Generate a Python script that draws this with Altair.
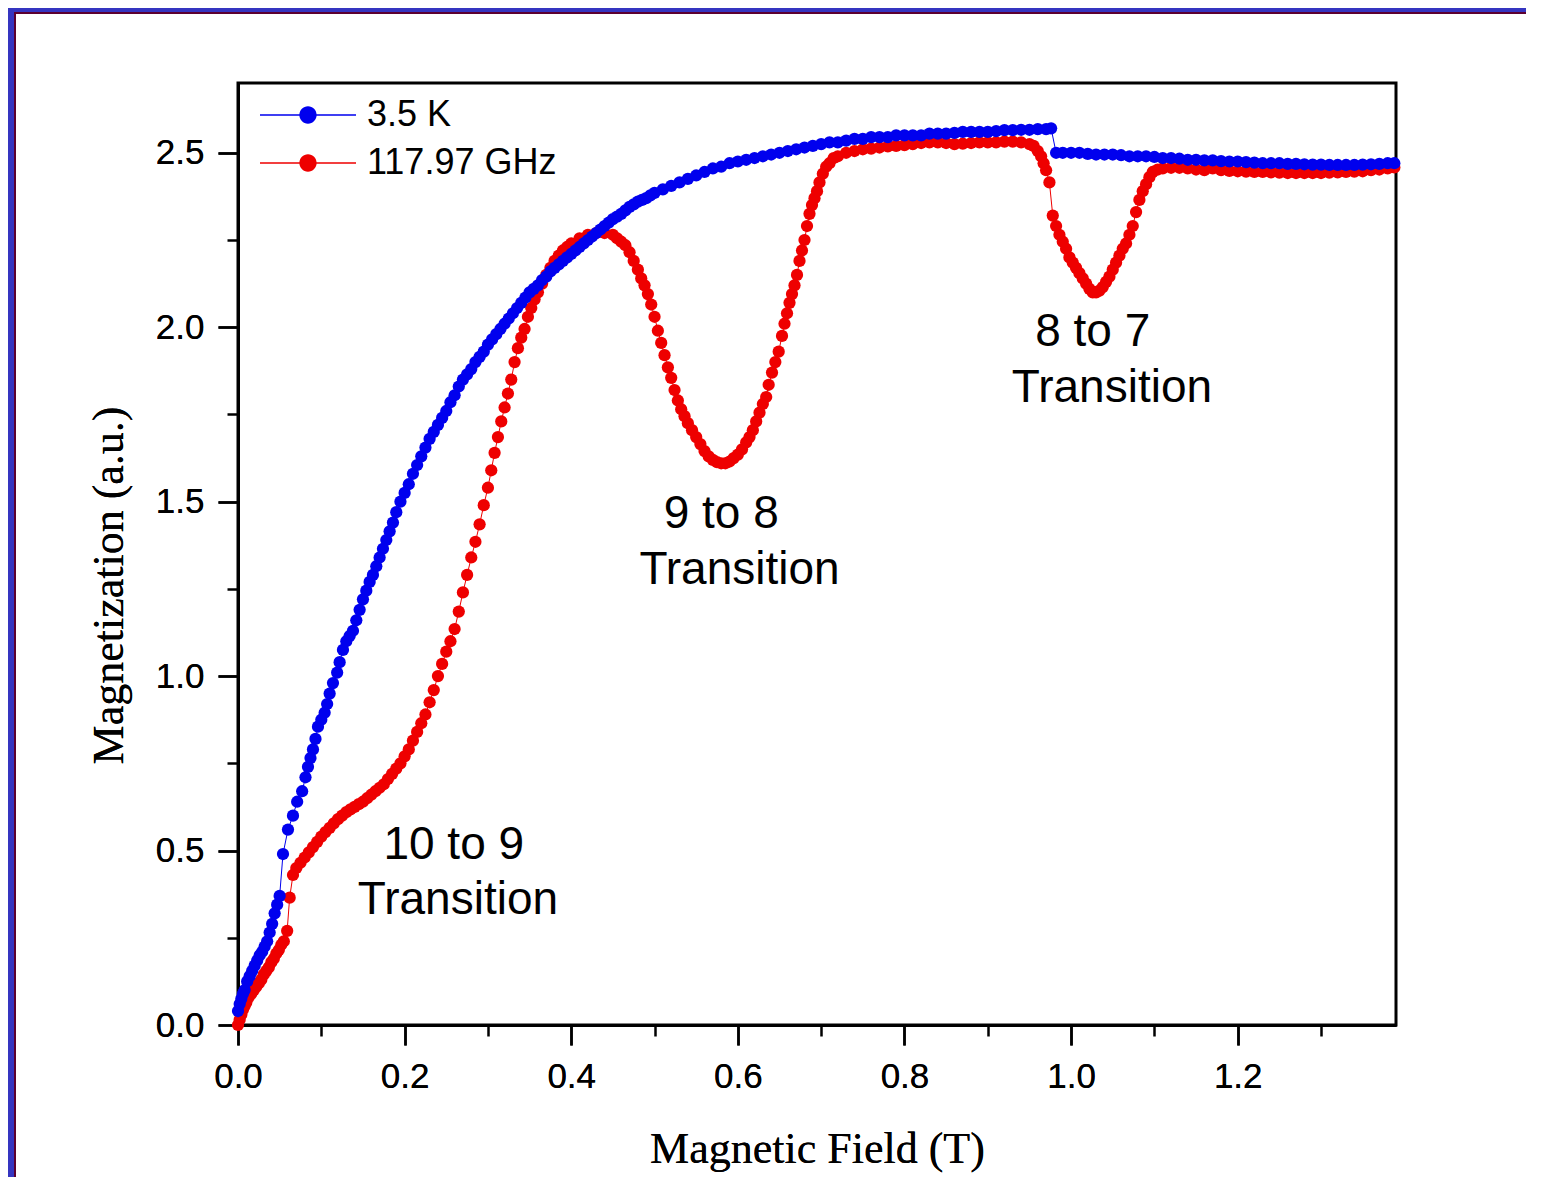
import altair as alt
import pandas as pd

series_names = ["3.5 K", "117.97 GHz"]
series_colors = ["#0000EE", "#EE0000"]

blue_points = [
    (0.000, 0.04), (0.002, 0.06), (0.004, 0.075), (0.006, 0.09), (0.008, 0.10), (0.011, 0.125),
    (0.014, 0.14), (0.017, 0.155), (0.020, 0.17), (0.023, 0.185), (0.026, 0.20), (0.029, 0.21),
    (0.032, 0.225), (0.035, 0.24), (0.038, 0.265), (0.041, 0.29), (0.044, 0.32), (0.047, 0.345),
    (0.050, 0.37), (0.054, 0.49), (0.060, 0.56), (0.066, 0.60), (0.071, 0.64), (0.077, 0.67),
    (0.081, 0.71), (0.084, 0.74), (0.087, 0.765), (0.090, 0.79), (0.093, 0.82), (0.096, 0.855),
    (0.100, 0.875), (0.104, 0.895), (0.107, 0.92), (0.110, 0.95), (0.114, 0.98), (0.119, 1.01),
    (0.122, 1.04), (0.126, 1.075), (0.130, 1.10), (0.134, 1.115), (0.138, 1.13), (0.142, 1.16),
    (0.146, 1.19), (0.150, 1.22), (0.154, 1.245), (0.158, 1.27), (0.162, 1.29), (0.166, 1.315),
    (0.170, 1.34), (0.174, 1.365), (0.178, 1.39), (0.182, 1.415), (0.186, 1.44), (0.190, 1.47),
    (0.195, 1.50), (0.200, 1.525), (0.205, 1.55), (0.210, 1.58), (0.215, 1.605), (0.220, 1.63),
    (0.225, 1.655), (0.230, 1.68), (0.235, 1.70), (0.240, 1.72), (0.245, 1.74), (0.250, 1.76),
    (0.255, 1.785), (0.260, 1.805), (0.265, 1.83), (0.270, 1.85), (0.275, 1.865), (0.280, 1.88),
    (0.285, 1.90), (0.290, 1.915), (0.295, 1.93), (0.300, 1.95), (0.305, 1.965), (0.310, 1.98),
    (0.315, 1.995), (0.320, 2.01), (0.325, 2.025), (0.330, 2.04), (0.335, 2.055), (0.340, 2.07),
    (0.345, 2.085), (0.350, 2.10), (0.355, 2.11), (0.360, 2.12), (0.365, 2.135), (0.370, 2.145),
    (0.375, 2.16), (0.380, 2.17), (0.385, 2.18), (0.390, 2.19), (0.395, 2.20), (0.400, 2.21),
    (0.405, 2.22), (0.410, 2.23), (0.415, 2.24), (0.420, 2.25), (0.425, 2.26), (0.430, 2.27),
    (0.435, 2.28), (0.440, 2.29), (0.445, 2.30), (0.450, 2.31), (0.455, 2.317), (0.460, 2.325),
    (0.465, 2.335), (0.470, 2.345), (0.475, 2.352), (0.480, 2.36), (0.485, 2.365), (0.490, 2.37),
    (0.495, 2.378), (0.500, 2.385), (0.51, 2.395), (0.52, 2.405), (0.53, 2.415), (0.54, 2.425),
    (0.55, 2.435), (0.56, 2.445), (0.57, 2.455), (0.58, 2.46), (0.59, 2.47), (0.60, 2.475),
    (0.61, 2.48), (0.62, 2.485), (0.63, 2.49), (0.64, 2.495), (0.65, 2.50), (0.66, 2.505),
    (0.67, 2.51), (0.68, 2.515), (0.69, 2.52), (0.70, 2.525), (0.71, 2.53), (0.72, 2.53),
    (0.73, 2.535), (0.74, 2.54), (0.75, 2.54), (0.76, 2.545), (0.77, 2.545), (0.78, 2.545),
    (0.79, 2.55), (0.80, 2.55), (0.81, 2.55), (0.82, 2.55), (0.83, 2.555), (0.84, 2.555),
    (0.85, 2.555), (0.86, 2.557), (0.87, 2.56), (0.88, 2.56), (0.89, 2.56), (0.90, 2.56),
    (0.91, 2.562), (0.92, 2.565), (0.93, 2.565), (0.94, 2.566), (0.95, 2.566), (0.96, 2.568),
    (0.97, 2.568), (0.976, 2.57), (0.982, 2.50), (0.99, 2.50), (1.00, 2.50), (1.01, 2.50),
    (1.02, 2.497), (1.03, 2.495), (1.04, 2.495), (1.05, 2.495), (1.06, 2.493), (1.07, 2.49),
    (1.08, 2.49), (1.09, 2.49), (1.10, 2.488), (1.11, 2.485), (1.12, 2.485), (1.13, 2.483),
    (1.14, 2.48), (1.15, 2.48), (1.16, 2.478), (1.17, 2.478), (1.18, 2.476), (1.19, 2.475),
    (1.20, 2.475), (1.21, 2.473), (1.22, 2.472), (1.23, 2.47), (1.24, 2.47), (1.25, 2.47),
    (1.26, 2.468), (1.27, 2.468), (1.28, 2.467), (1.29, 2.466), (1.30, 2.466), (1.31, 2.465),
    (1.32, 2.465), (1.33, 2.465), (1.34, 2.465), (1.35, 2.466), (1.36, 2.467), (1.37, 2.468),
    (1.38, 2.47), (1.388, 2.47),
]

red_points = [
    (0.000, 0.00), (0.002, 0.015), (0.004, 0.03), (0.006, 0.045), (0.008, 0.055), (0.010, 0.065),
    (0.013, 0.08), (0.016, 0.09), (0.019, 0.10), (0.022, 0.11), (0.025, 0.12), (0.028, 0.13),
    (0.031, 0.145), (0.034, 0.155), (0.037, 0.165), (0.040, 0.18), (0.043, 0.19), (0.046, 0.205),
    (0.049, 0.215), (0.052, 0.23), (0.055, 0.24), (0.059, 0.27), (0.062, 0.365), (0.066, 0.43),
    (0.070, 0.45), (0.075, 0.465), (0.080, 0.48), (0.085, 0.495), (0.090, 0.51), (0.095, 0.525),
    (0.100, 0.54), (0.105, 0.553), (0.110, 0.565), (0.115, 0.578), (0.120, 0.59), (0.125, 0.60),
    (0.130, 0.61), (0.135, 0.618), (0.140, 0.625), (0.145, 0.633), (0.150, 0.64), (0.155, 0.65),
    (0.160, 0.66), (0.165, 0.67), (0.170, 0.68), (0.175, 0.69), (0.180, 0.705), (0.185, 0.72),
    (0.190, 0.735), (0.195, 0.75), (0.200, 0.77), (0.205, 0.79), (0.210, 0.815), (0.215, 0.84),
    (0.220, 0.865), (0.225, 0.89), (0.230, 0.925), (0.235, 0.96), (0.240, 1.00), (0.245, 1.035),
    (0.250, 1.07), (0.255, 1.10), (0.260, 1.135), (0.265, 1.185), (0.270, 1.24), (0.275, 1.29),
    (0.280, 1.34), (0.285, 1.385), (0.290, 1.435), (0.295, 1.49), (0.300, 1.54), (0.304, 1.59),
    (0.308, 1.64), (0.312, 1.685), (0.316, 1.73), (0.320, 1.77), (0.324, 1.81), (0.328, 1.85),
    (0.332, 1.90), (0.336, 1.94), (0.340, 1.97), (0.344, 1.995), (0.348, 2.03), (0.352, 2.055),
    (0.356, 2.08), (0.360, 2.10), (0.365, 2.125), (0.370, 2.15), (0.375, 2.17), (0.380, 2.19),
    (0.385, 2.205), (0.390, 2.22), (0.395, 2.23), (0.400, 2.24), (0.41, 2.255), (0.42, 2.265),
    (0.43, 2.27), (0.44, 2.27), (0.45, 2.265), (0.455, 2.255), (0.460, 2.245), (0.465, 2.235),
    (0.470, 2.215), (0.475, 2.19), (0.480, 2.165), (0.484, 2.14), (0.488, 2.12), (0.492, 2.095),
    (0.496, 2.065), (0.500, 2.03), (0.504, 1.99), (0.508, 1.955), (0.512, 1.92), (0.516, 1.885),
    (0.520, 1.855), (0.524, 1.82), (0.528, 1.79), (0.532, 1.765), (0.536, 1.745), (0.540, 1.725),
    (0.545, 1.705), (0.550, 1.685), (0.555, 1.665), (0.560, 1.645), (0.565, 1.63), (0.570, 1.62),
    (0.575, 1.613), (0.580, 1.61), (0.585, 1.61), (0.590, 1.615), (0.595, 1.625), (0.600, 1.635),
    (0.605, 1.65), (0.610, 1.67), (0.614, 1.685), (0.618, 1.705), (0.622, 1.73), (0.626, 1.755),
    (0.630, 1.78), (0.634, 1.80), (0.637, 1.835), (0.641, 1.87), (0.645, 1.90), (0.649, 1.93),
    (0.653, 1.975), (0.656, 2.01), (0.659, 2.04), (0.662, 2.07), (0.665, 2.095), (0.668, 2.12),
    (0.671, 2.15), (0.674, 2.19), (0.677, 2.22), (0.680, 2.25), (0.683, 2.29), (0.686, 2.325),
    (0.689, 2.35), (0.692, 2.37), (0.695, 2.39), (0.698, 2.415), (0.702, 2.44), (0.706, 2.46),
    (0.710, 2.47), (0.715, 2.485), (0.72, 2.49), (0.73, 2.50), (0.74, 2.505), (0.75, 2.51),
    (0.76, 2.512), (0.77, 2.515), (0.78, 2.518), (0.79, 2.52), (0.80, 2.522), (0.81, 2.525),
    (0.82, 2.528), (0.83, 2.53), (0.84, 2.53), (0.85, 2.528), (0.86, 2.525), (0.87, 2.526),
    (0.88, 2.528), (0.89, 2.53), (0.90, 2.53), (0.91, 2.53), (0.92, 2.532), (0.93, 2.532),
    (0.94, 2.53), (0.95, 2.525), (0.955, 2.52), (0.960, 2.505), (0.964, 2.49), (0.967, 2.47),
    (0.970, 2.45), (0.974, 2.415), (0.978, 2.32), (0.982, 2.29), (0.986, 2.265), (0.990, 2.245),
    (0.994, 2.225), (0.998, 2.20), (1.002, 2.185), (1.006, 2.17), (1.010, 2.155), (1.014, 2.14),
    (1.018, 2.125), (1.022, 2.11), (1.026, 2.10), (1.030, 2.10), (1.034, 2.105), (1.038, 2.115),
    (1.042, 2.13), (1.046, 2.145), (1.050, 2.165), (1.054, 2.185), (1.058, 2.205), (1.062, 2.225),
    (1.066, 2.24), (1.070, 2.265), (1.074, 2.29), (1.078, 2.33), (1.082, 2.365), (1.086, 2.39),
    (1.090, 2.41), (1.094, 2.43), (1.098, 2.445), (1.104, 2.452), (1.11, 2.455), (1.12, 2.457),
    (1.13, 2.457), (1.14, 2.455), (1.15, 2.452), (1.16, 2.45), (1.17, 2.455), (1.18, 2.45),
    (1.19, 2.448), (1.20, 2.447), (1.21, 2.446), (1.22, 2.445), (1.23, 2.445), (1.24, 2.444),
    (1.25, 2.443), (1.26, 2.442), (1.27, 2.442), (1.28, 2.442), (1.29, 2.442), (1.30, 2.442),
    (1.31, 2.443), (1.32, 2.444), (1.33, 2.445), (1.34, 2.446), (1.35, 2.447), (1.36, 2.45),
    (1.37, 2.452), (1.38, 2.455), (1.388, 2.458),
]

x_major = [0.0, 0.2, 0.4, 0.6, 0.8, 1.0, 1.2]
x_minor = [0.1, 0.3, 0.5, 0.7, 0.9, 1.1, 1.3]
y_major = [0.0, 0.5, 1.0, 1.5, 2.0, 2.5]
y_minor = [0.25, 0.75, 1.25, 1.75, 2.25]

ann_text = ["10 to 9", "Transition", "9 to 8", "Transition", "8 to 7", "Transition"]
ann_x = [0.259, 0.264, 0.580, 0.602, 1.026, 1.049]
ann_y = [0.516, 0.358, 1.465, 1.304, 1.987, 1.826]

rows = []
for name, pts in (("117.97 GHz", red_points), ("3.5 K", blue_points)):
    for i, (fx, my) in enumerate(pts):
        rows.append({"series": name, "field": fx, "mag": my, "idx": i})
df = pd.DataFrame(rows)
ann = pd.DataFrame({"text": ann_text, "field": ann_x, "mag": ann_y})

W, H = 1158, 942
xscale = alt.Scale(domain=[0, 1.39], nice=False, zero=False)
yscale = alt.Scale(domain=[0, 2.7], nice=False, zero=False)
cscale = alt.Scale(domain=series_names, range=series_colors)

common = dict(grid=False, tickColor="black", tickWidth=2.5, domainColor="black", domainWidth=3,
              labelFont="Liberation Sans", labelFontSize=35, labelColor="black", labelPadding=14,
              labelFlush=False,
              titleFont="Liberation Serif", titleFontSize=44, titleFontWeight="normal", titleColor="black")

x_main = alt.Axis(orient="bottom", values=x_major, format=".1f", tickSize=20,
                  title="Magnetic Field (T)", titleY=137, titleBaseline="alphabetic", **common)
y_main = alt.Axis(orient="left", values=y_major, format=".1f", tickSize=20,
                  title="Magnetization (a.u.)", titleX=-116, titleY=502, titleAngle=270,
                  titleBaseline="alphabetic", titleAlign="center", **common)
x_min_axis = alt.Axis(orient="bottom", values=x_minor, labels=False, tickSize=11, tickWidth=2.5,
                      tickColor="black", domain=False, grid=False, title="")
y_min_axis = alt.Axis(orient="left", values=y_minor, labels=False, tickSize=11, tickWidth=2.5,
                      tickColor="black", domain=False, grid=False, title="")

# legend symbol: thin filled bars either side of a filled dot (scale unit = 24 px)
sym_path = ("M-2,-0.031H-0.33V0.031H-2Z"
            "M0.33,-0.031H2V0.031H0.33Z"
            "M0.36,0A0.36,0.36,0,1,1,-0.36,0A0.36,0.36,0,1,1,0.36,0Z")
legend = alt.Legend(title=None, orient="none", legendX=46, legendY=8, symbolType=sym_path,
                    symbolSize=2304, symbolStrokeWidth=0, symbolOpacity=1,
                    labelFont="Liberation Sans", labelFontSize=36, labelColor="black",
                    labelOffset=35, labelLimit=500, padding=0, rowPadding=6)

base = alt.Chart(df)

line_layers = []
for name, col in zip(series_names, series_colors):
    line_layers.append(
        base.transform_filter(alt.datum.series == name).mark_line(strokeWidth=1, color=col).encode(
            x=alt.X("field:Q", scale=xscale, axis=x_main),
            y=alt.Y("mag:Q", scale=yscale, axis=y_main),
            order="idx:Q",
        )
    )

dots = base.mark_circle(size=150, opacity=1).encode(
    x=alt.X("field:Q", scale=xscale, axis=x_min_axis),
    y=alt.Y("mag:Q", scale=yscale, axis=y_min_axis),
    color=alt.Color("series:N", scale=cscale, legend=legend),
)

labels = alt.Chart(ann).mark_text(font="Liberation Sans", fontSize=46, color="black",
                                  align="center", baseline="middle").encode(
    x=alt.X("field:Q", scale=xscale, axis=None),
    y=alt.Y("mag:Q", scale=yscale, axis=None),
    text="text:N",
)

deco_df = pd.DataFrame({"k": [0]})
deco = alt.Chart(deco_df)
band_left = deco.mark_rect(color="#3535C0").encode(
    x=alt.value(-230), x2=alt.value(-224), y=alt.value(-75), y2=alt.value(H + 160))
line_left = deco.mark_rect(color="#5C0030").encode(
    x=alt.value(-224), x2=alt.value(-222), y=alt.value(-71), y2=alt.value(H + 160))
band_top = deco.mark_rect(color="#3535C0").encode(
    x=alt.value(-230), x2=alt.value(W + 160), y=alt.value(-75), y2=alt.value(-71))
line_top = deco.mark_rect(color="#5C0030").encode(
    x=alt.value(-224), x2=alt.value(W + 160), y=alt.value(-71), y2=alt.value(-69))

chart = alt.layer(band_left, line_left, band_top, line_top, *line_layers, dots, labels).resolve_axis(
    x="independent", y="independent"
).properties(
    width=W, height=H,
    autosize=alt.AutoSizeParams(type="none"),
    padding={"left": 230, "top": 75, "right": 130, "bottom": 152},
    background="white",
).configure_view(stroke="black", strokeWidth=3)

chart.save("out.html", embed_options={"renderer": "svg", "actions": False})
